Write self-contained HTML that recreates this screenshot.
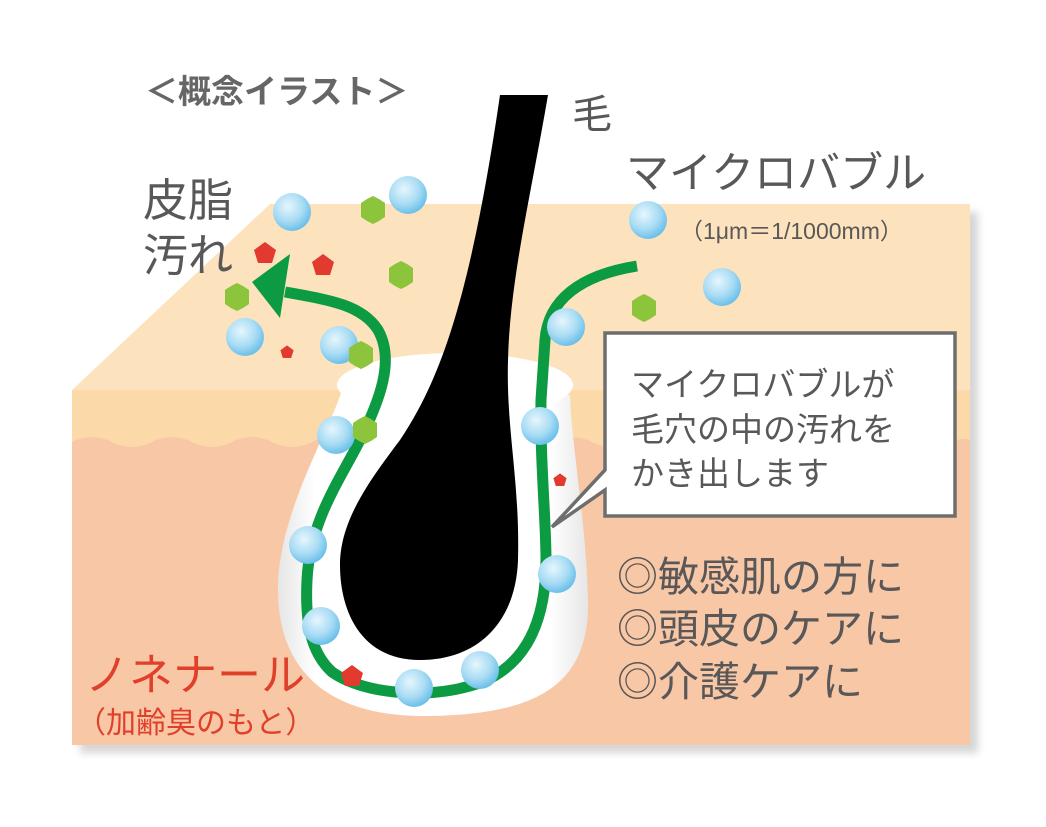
<!DOCTYPE html>
<html><head><meta charset="utf-8"><style>
html,body{margin:0;padding:0;background:#fff;}
svg{display:block;}
text{font-family:"Liberation Sans","Noto Sans CJK JP",sans-serif;}
</style></head><body>
<svg width="1046" height="827" viewBox="0 0 1046 827">
<defs>
<radialGradient id="bub" cx="0.4" cy="0.35" r="0.65">
<stop offset="0" stop-color="#e6f6fd"/><stop offset="0.6" stop-color="#a9dcf4"/><stop offset="1" stop-color="#6cc0ea"/>
</radialGradient>
<filter id="sh" x="-5%" y="-5%" width="115%" height="115%"><feGaussianBlur stdDeviation="4"/></filter>
<linearGradient id="wh" x1="0" x2="1"><stop offset="0" stop-color="#e6e6e6"/><stop offset="0.12" stop-color="#fff"/><stop offset="0.88" stop-color="#fff"/><stop offset="1" stop-color="#e6e6e6"/></linearGradient>
<g id="b"><circle r="19" fill="url(#bub)"/></g>
<polygon id="hx" points="0,-14 6,-11 12,-7 12,0 12,7 6,11 0,14 -6,11 -12,7 -12,0 -12,-7 -6,-11" fill="#8cc43c"/>
<polygon id="pt" points="0,-11 11,-3 7,10 -7,10 -11,-3" fill="#e23a2e"/>
</defs>
<polygon points="80,398 278,212 978,212 978,753 80,753" fill="#999" opacity="0.4" filter="url(#sh)"/>
<polygon points="72,390 270,204 970,204 970,390" fill="#fde3bd"/>
<rect x="72" y="390" width="898" height="355" fill="#fcd9a8"/>
<path d="M72,442 Q92,432 112,442 T152,442 T192,442 T232,442 T272,442 T312,442 T352,442 T392,442 T432,442 T472,442 T512,442 T552,442 T592,442 T632,442 T672,442 T712,442 T752,442 T792,442 T832,442 T872,442 T912,442 T952,442 Q962,437 970,440 L970,745 L72,745 Z" fill="#f8c8a6"/>
<path d="M342,390 C330,430 280,510 278,585 C276,680 340,718 430,716 C530,714 590,690 588,600 C586,520 572,450 570,395 Z" fill="url(#wh)"/>
<ellipse cx="455" cy="385" rx="118" ry="32" fill="#fff"/>
<path d="M500,95 L548,95 C530,200 510,280 508,360 C506,430 520,480 518,560 C516,620 480,660 420,660 C360,660 340,610 340,565 C340,520 370,480 400,440 C440,380 470,300 500,95 Z" fill="#000"/>
<path d="M637,266 C580,275 548,300 545,340 L541,400 C540,460 546,520 546,560 C546,630 520,672 470,686 C420,700 360,692 332,672 C310,652 305,620 307,580 C310,520 340,480 360,440 C380,400 395,360 378,330 C362,305 330,300 285,292" fill="none" stroke="#0c9a43" stroke-width="11"/>
<polygon points="252,282 290,254 280,318" fill="#0c9a43"/>
<use href="#b" x="292" y="212"/><use href="#b" x="408" y="195"/><use href="#b" x="648" y="220"/>
<use href="#b" x="722" y="287"/><use href="#b" x="566" y="327"/><use href="#b" x="245" y="337"/>
<use href="#b" x="339" y="345"/><use href="#b" x="540" y="426"/><use href="#b" x="336" y="435"/>
<use href="#b" x="308" y="545"/><use href="#b" x="557" y="574"/><use href="#b" x="321" y="626"/>
<use href="#b" x="480" y="670"/><use href="#b" x="414" y="688"/>
<use href="#hx" x="373" y="210"/><use href="#hx" x="401" y="275"/><use href="#hx" x="237" y="297"/>
<use href="#hx" x="361" y="355"/><use href="#hx" x="365" y="430"/><use href="#hx" x="644" y="308"/>
<use href="#pt" x="265" y="253"/><use href="#pt" x="323" y="265"/>
<g transform="translate(287,352) scale(0.6)"><use href="#pt"/></g>
<g transform="translate(560,480) scale(0.6)"><use href="#pt"/></g>
<use href="#pt" x="352" y="676"/>
<polygon points="605,333 955,333 955,516 605,516 605,490 552,527 605,470" fill="#fff" stroke="#6e6e6e" stroke-width="3.5" stroke-linejoin="miter"/>
<g fill="#595757">
<text x="631" y="396" font-size="33">マイクロバブルが</text>
<text x="631" y="441" font-size="33">毛穴の中の汚れを</text>
<text x="631" y="485" font-size="33">かき出します</text>
<text x="145" y="103" font-size="33" font-weight="bold" fill="#666">＜概念イラスト＞</text>
<text x="572" y="128" font-size="40">毛</text>
<text x="626" y="188" font-size="43">マイクロバブル</text>
<text x="680" y="239" font-size="23">（1μm＝1/1000mm）</text>
<text x="143" y="216" font-size="45">皮脂</text>
<text x="143" y="271" font-size="45">汚れ</text>
<text x="617" y="591" font-size="41">◎敏感肌の方に</text>
<text x="617" y="643" font-size="41">◎頭皮のケアに</text>
<text x="617" y="696" font-size="41">◎介護ケアに</text>
</g>
<text x="85" y="690" font-size="44" fill="#e0402a">ノネナール</text>
<text x="76" y="733" font-size="30" fill="#e0402a">（加齢臭のもと）</text>
</svg>
</body></html>
